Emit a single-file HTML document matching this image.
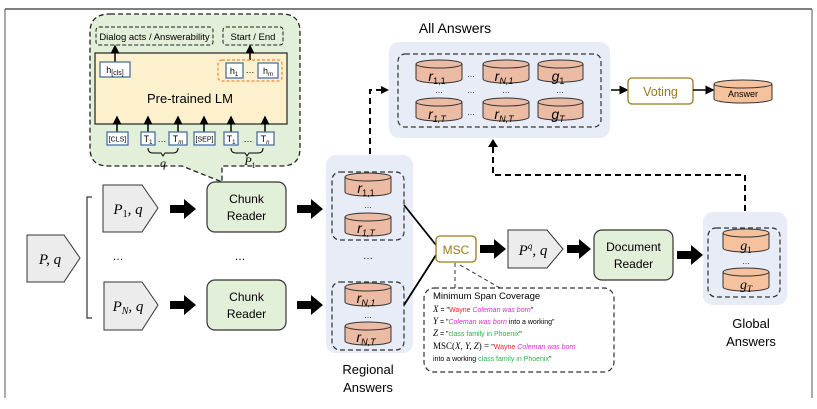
<!DOCTYPE html>
<html><head><meta charset="utf-8"><style>
body{margin:0;background:#fff}
svg{display:block}
text{font-family:"Liberation Sans",sans-serif}
.m{font-family:"Liberation Serif",serif;font-style:italic}
</style></head><body>
<svg width="817" height="409" viewBox="0 0 817 409" xmlns="http://www.w3.org/2000/svg">
<defs>
<marker id="ah" markerWidth="6" markerHeight="6" refX="5" refY="3" orient="auto"><path d="M0,0 L6,3 L0,6 z" fill="#000"/></marker>
</defs>
<!-- frame -->
<line x1="5" y1="9" x2="812" y2="9" stroke="#333" stroke-width="1.2"/>
<line x1="5" y1="9" x2="5" y2="398" stroke="#555" stroke-width="1"/>
<line x1="812" y1="9" x2="812" y2="398" stroke="#555" stroke-width="1"/>

<!-- speech bubble -->
<path d="M110,14 H282 Q300,14 300,32 V148 Q300,166 282,166 H222 V182 L182,166 H108 Q90,166 90,148 V32 Q90,14 110,14 Z" fill="#e2efd9" stroke="#222" stroke-width="1.3" stroke-dasharray="5,3"/>
<rect x="96" y="27" width="117" height="18" rx="3" fill="none" stroke="#222" stroke-dasharray="4,2"/>
<text x="154.5" y="40" font-size="9.5" text-anchor="middle">Dialog acts / Answerability</text>
<rect x="223" y="27" width="60" height="18" rx="3" fill="none" stroke="#222" stroke-dasharray="4,2"/>
<text x="253" y="40" font-size="9.5" text-anchor="middle">Start / End</text>
<rect x="95" y="53" width="192" height="71" fill="#fdf0cc" stroke="#222" stroke-width="1.2"/>
<line x1="115" y1="62" x2="115" y2="46" stroke="#000" stroke-width="1.5" marker-end="url(#ah)"/>
<line x1="250" y1="60" x2="250" y2="46" stroke="#000" stroke-width="1.5" marker-end="url(#ah)"/>
<rect x="100" y="62" width="30" height="15" fill="#fff" stroke="#4a6fa5" stroke-width="1.3"/>
<text x="115" y="73" font-size="9" text-anchor="middle" font-family="Liberation Serif">h<tspan font-size="7" dy="2">[cls]</tspan></text>
<rect x="218" y="60" width="64" height="21" rx="4" fill="none" stroke="#f08a3c" stroke-dasharray="3,2" stroke-width="1.2"/>
<rect x="226" y="63" width="17" height="15" fill="#fff" stroke="#4a6fa5" stroke-width="1.3"/>
<text x="234" y="74" font-size="9" text-anchor="middle" font-family="Liberation Serif">h<tspan font-size="6" dy="2">1</tspan></text>
<text x="250" y="73" font-size="9" text-anchor="middle">…</text>
<rect x="258" y="63" width="20" height="15" fill="#fff" stroke="#4a6fa5" stroke-width="1.3"/>
<text x="268" y="74" font-size="9" text-anchor="middle" font-family="Liberation Serif">h<tspan font-size="6" dy="2" font-style="italic">m</tspan></text>
<text x="190" y="103" font-size="13" text-anchor="middle">Pre-trained LM</text>
<g stroke="#000" stroke-width="1.5" marker-end="url(#ah)">
<line x1="117" y1="132" x2="117" y2="117"/><line x1="148" y1="132" x2="148" y2="117"/>
<line x1="178" y1="132" x2="178" y2="117"/><line x1="204" y1="132" x2="204" y2="117"/>
<line x1="231" y1="132" x2="231" y2="117"/><line x1="265" y1="132" x2="265" y2="117"/>
</g>
<g fill="#fff" stroke="#4a6fa5" stroke-width="1.3">
<rect x="107" y="132" width="21" height="13"/><rect x="141" y="132" width="14" height="13"/>
<rect x="169" y="132" width="18" height="13"/><rect x="194" y="132" width="21" height="13"/>
<rect x="224" y="132" width="14" height="13"/><rect x="257" y="132" width="17" height="13"/>
</g>
<g font-size="7" text-anchor="middle"><text x="117.5" y="141.5">[CLS]</text><text x="204.5" y="141.5">[SEP]</text></g>
<g font-size="9" text-anchor="middle" font-family="Liberation Serif">
<text x="148" y="142">T<tspan font-size="6" dy="2">1</tspan></text>
<text x="178" y="142">T<tspan font-size="6" dy="2" font-style="italic">m</tspan></text>
<text x="231" y="142">T<tspan font-size="6" dy="2">1</tspan></text>
<text x="265" y="142">T<tspan font-size="6" dy="2" font-style="italic">n</tspan></text>
</g>
<text x="162" y="142" font-size="9" text-anchor="middle">…</text>
<text x="248" y="142" font-size="9" text-anchor="middle">…</text>
<path d="M148,148 q0,5 5,5 h8 l2,3 l2,-3 h8 q5,0 5,-5" fill="none" stroke="#000"/>
<path d="M231,148 q0,5 5,5 h9 l2,3 l2,-3 h9 q5,0 5,-5" fill="none" stroke="#000"/>
<text x="163" y="167" class="m" font-size="12" text-anchor="middle">q</text>
<text x="250" y="165" class="m" font-size="12" text-anchor="middle">P<tspan font-size="8" dy="3" font-style="normal">1</tspan></text>

<!-- inputs -->
<path d="M27,235 H64 L80,258 L64,282 H27 Z" fill="#ececec" stroke="#333"/>
<text x="50" y="264" class="m" font-size="15" text-anchor="middle">P, q</text>
<path d="M92,197 H87 V318 H92" fill="none" stroke="#333" stroke-width="1.2"/>
<path d="M103,185 H142 L158,208 L142,232 H103 Z" fill="#ececec" stroke="#333"/>
<text x="128" y="214" class="m" font-size="15" text-anchor="middle">P<tspan font-size="10" dy="3" font-style="normal">1</tspan><tspan dy="-3">, q</tspan></text>
<path d="M104,282 H142 L158,305 L142,330 H104 Z" fill="#ececec" stroke="#333"/>
<text x="128" y="311" class="m" font-size="15" text-anchor="middle">P<tspan font-size="10" dy="3">N</tspan><tspan dy="-3">, q</tspan></text>
<text x="118" y="260" font-size="11" text-anchor="middle">…</text>
<text x="240" y="260" font-size="11" text-anchor="middle">…</text>

<!-- thick arrows -->
<g fill="#000">
<path d="M170,205 h14 v-6 l12,10 l-12,10 v-6 h-14 z"/>
<path d="M170,301 h14 v-6 l12,10 l-12,10 v-6 h-14 z"/>
<path d="M297,205 h14 v-6 l12,10 l-12,10 v-6 h-14 z"/>
<path d="M297,301 h14 v-6 l12,10 l-12,10 v-6 h-14 z"/>
<path d="M480,245 h14 v-6 l12,10 l-12,10 v-6 h-14 z"/>
<path d="M567,245 h12 v-6 l12,10 l-12,10 v-6 h-12 z"/>
<path d="M677,251 h14 v-6 l12,10 l-12,10 v-6 h-14 z"/>
</g>

<rect x="207" y="182" width="79" height="50" rx="8" fill="#e2efd9" stroke="#333" stroke-width="1.2"/>
<text x="246.5" y="203" font-size="12" text-anchor="middle">Chunk</text>
<text x="246.5" y="220" font-size="12" text-anchor="middle">Reader</text>
<rect x="207" y="280" width="79" height="50" rx="8" fill="#e2efd9" stroke="#333" stroke-width="1.2"/>
<text x="246.5" y="301" font-size="12" text-anchor="middle">Chunk</text>
<text x="246.5" y="318" font-size="12" text-anchor="middle">Reader</text>

<!-- regional -->
<rect x="326" y="155" width="87" height="198" rx="10" fill="#e8ecf7"/>
<rect x="332" y="172" width="72" height="68" rx="8" fill="none" stroke="#333" stroke-width="1.2" stroke-dasharray="5,3"/>
<rect x="332" y="282" width="72" height="68" rx="8" fill="none" stroke="#333" stroke-width="1.2" stroke-dasharray="5,3"/>
<g fill="#ebbba4" stroke="#333" stroke-width="1">
<path d="M345,177 v15 a23,4 0 0 0 46,0 v-15"/><ellipse cx="368" cy="177" rx="23" ry="4"/>
<path d="M345,217 v15 a23,4 0 0 0 46,0 v-15"/><ellipse cx="368" cy="217" rx="23" ry="4"/>
<path d="M345,287 v15 a23,4 0 0 0 46,0 v-15"/><ellipse cx="368" cy="287" rx="23" ry="4"/>
<path d="M345,326 v15 a23,4 0 0 0 46,0 v-15"/><ellipse cx="368" cy="326" rx="23" ry="4"/>
</g>
<g class="m" font-size="14" text-anchor="middle">
<text x="366" y="193">r<tspan font-size="9" dy="3" font-style="normal">1,1</tspan></text>
<text x="366" y="233">r<tspan font-size="9" dy="3">1,T</tspan></text>
<text x="366" y="303">r<tspan font-size="9" dy="3">N,1</tspan></text>
<text x="366" y="342">r<tspan font-size="9" dy="3">N,T</tspan></text>
</g>
<text x="368" y="208" font-size="8" text-anchor="middle">…</text>
<text x="368" y="318" font-size="8" text-anchor="middle">…</text>
<text x="368" y="259" font-size="10" text-anchor="middle">…</text>
<text x="368" y="374" font-size="13" text-anchor="middle">Regional</text>
<text x="368" y="392" font-size="13" text-anchor="middle">Answers</text>

<line x1="404" y1="205" x2="436" y2="245" stroke="#000" stroke-width="1.8"/>
<line x1="404" y1="305" x2="436" y2="255" stroke="#000" stroke-width="1.8"/>
<rect x="436" y="236" width="40" height="26" rx="4" fill="#fff" stroke="#9a7a1c" stroke-width="1.3"/>
<text x="456" y="254" font-size="12" text-anchor="middle" fill="#9a7a1c">MSC</text>

<!-- note -->
<path d="M455,263 V288" stroke="#333" stroke-dasharray="4,3" fill="none"/>
<path d="M460,265 L500,288" stroke="#333" stroke-dasharray="4,3" fill="none"/>
<rect x="424" y="288" width="190" height="84" rx="10" fill="#fff" stroke="#333" stroke-width="1.2" stroke-dasharray="5,3"/>
<text x="433" y="299" font-size="9.5">Minimum Span Coverage</text>
<g font-size="7">
<text x="433" y="312"><tspan class="m" font-size="9">X</tspan> =  "<tspan fill="#e8232b">Wayne </tspan><tspan fill="#d82bd8" font-style="italic">Coleman was  born</tspan>"</text>
<text x="433" y="324"><tspan class="m" font-size="9">Y</tspan> =  "<tspan fill="#d82bd8" font-style="italic">Coleman was born </tspan>into a working"</text>
<text x="433" y="336"><tspan class="m" font-size="9">Z</tspan> =  "<tspan fill="#2eb24a">class family in Phoenix</tspan>"</text>
<text x="433" y="349"><tspan font-family="Liberation Serif" font-size="9">MSC(<tspan font-style="italic">X, Y, Z</tspan>) = </tspan> "<tspan fill="#e8232b">Wayne </tspan><tspan fill="#d82bd8" font-style="italic">Coleman was born</tspan></text>
<text x="433" y="361">into a working <tspan fill="#2eb24a">class family in Phoenix</tspan>"</text>
</g>

<path d="M508,230 H547 L563,249 L547,268 H508 Z" fill="#ececec" stroke="#333"/>
<text x="533" y="255" class="m" font-size="15" text-anchor="middle">P<tspan font-size="9" dy="-6">q</tspan><tspan dy="6">, q</tspan></text>

<rect x="594" y="230" width="79" height="50" rx="8" fill="#e2efd9" stroke="#333" stroke-width="1.2"/>
<text x="633.5" y="251" font-size="12" text-anchor="middle">Document</text>
<text x="633.5" y="268" font-size="12" text-anchor="middle">Reader</text>

<!-- global -->
<rect x="703" y="212" width="84" height="93" rx="10" fill="#e8ecf7"/>
<rect x="708" y="228" width="72" height="69" rx="8" fill="none" stroke="#333" stroke-width="1.2" stroke-dasharray="5,3"/>
<g fill="#f6c29e" stroke="#333">
<path d="M723,233 v15 a23,4 0 0 0 46,0 v-15"/><ellipse cx="746" cy="233" rx="23" ry="4"/>
<path d="M723,272 v15 a23,4 0 0 0 46,0 v-15"/><ellipse cx="746" cy="272" rx="23" ry="4"/>
</g>
<text x="746" y="250" class="m" font-size="14" text-anchor="middle">g<tspan font-size="9" dy="3" font-style="normal">1</tspan></text>
<text x="746" y="289" class="m" font-size="14" text-anchor="middle">g<tspan font-size="9" dy="3">T</tspan></text>
<text x="746" y="264" font-size="8" text-anchor="middle">…</text>
<text x="751" y="328" font-size="13" text-anchor="middle">Global</text>
<text x="751" y="346" font-size="13" text-anchor="middle">Answers</text>

<!-- dashed feedback -->
<path d="M745,211 V175 H493 V146" fill="none" stroke="#000" stroke-width="2" stroke-dasharray="6,4"/>
<path d="M488,147 L493,139 L498,147 z" fill="#000"/>
<path d="M370,154 V90 H381" fill="none" stroke="#000" stroke-width="2" stroke-dasharray="6,4"/>
<path d="M381,86 L389,90 L381,94 z" fill="#000"/>

<!-- all answers -->
<text x="455" y="33" font-size="14" text-anchor="middle">All Answers</text>
<rect x="389" y="42" width="221" height="96" rx="10" fill="#e8ecf7"/>
<rect x="398" y="54" width="203" height="73" rx="7" fill="none" stroke="#333" stroke-width="1.2" stroke-dasharray="5,3"/>
<g fill="#ebbba4" stroke="#333">
<path d="M416,64 v15 a23,4 0 0 0 46,0 v-15"/><ellipse cx="439" cy="64" rx="23" ry="4"/>
<path d="M483,64 v15 a23,4 0 0 0 46,0 v-15"/><ellipse cx="506" cy="64" rx="23" ry="4"/>
<path d="M538,64 v15 a23,4 0 0 0 45,0 v-15"/><ellipse cx="560.5" cy="64" rx="22.5" ry="4"/>
<path d="M416,102 v15 a23,4 0 0 0 46,0 v-15"/><ellipse cx="439" cy="102" rx="23" ry="4"/>
<path d="M483,102 v15 a23,4 0 0 0 46,0 v-15"/><ellipse cx="506" cy="102" rx="23" ry="4"/>
<path d="M538,102 v15 a23,4 0 0 0 45,0 v-15"/><ellipse cx="560.5" cy="102" rx="22.5" ry="4"/>
</g>
<g class="m" font-size="14" text-anchor="middle">
<text x="437" y="81">r<tspan font-size="9" dy="3" font-style="normal">1,1</tspan></text>
<text x="504" y="81">r<tspan font-size="9" dy="3">N,1</tspan></text>
<text x="558" y="81">g<tspan font-size="9" dy="3" font-style="normal">1</tspan></text>
<text x="437" y="119">r<tspan font-size="9" dy="3">1,T</tspan></text>
<text x="504" y="119">r<tspan font-size="9" dy="3">N,T</tspan></text>
<text x="558" y="119">g<tspan font-size="9" dy="3">T</tspan></text>
</g>
<g font-size="8" text-anchor="middle">
<text x="471" y="77">…</text><text x="471" y="115">…</text>
<text x="439" y="93">…</text><text x="471" y="93">…</text><text x="506" y="93">…</text><text x="560" y="93">…</text>
</g>
<line x1="611" y1="90" x2="627" y2="90" stroke="#000" stroke-width="1.5" marker-end="url(#ah)"/>
<rect x="628" y="78" width="65" height="26" rx="4" fill="#fff" stroke="#9a7a1c" stroke-width="1.3"/>
<text x="660.5" y="96" font-size="12.5" text-anchor="middle" fill="#9a7a1c">Voting</text>
<line x1="693" y1="90" x2="713" y2="90" stroke="#000" stroke-width="1.5" marker-end="url(#ah)"/>
<g fill="#f6c29e" stroke="#333">
<path d="M714,84 v15 a29,4 0 0 0 58,0 v-15"/><ellipse cx="743" cy="84" rx="29" ry="4"/>
</g>
<text x="743" y="97" font-size="9" text-anchor="middle">Answer</text>
</svg>
</body></html>
